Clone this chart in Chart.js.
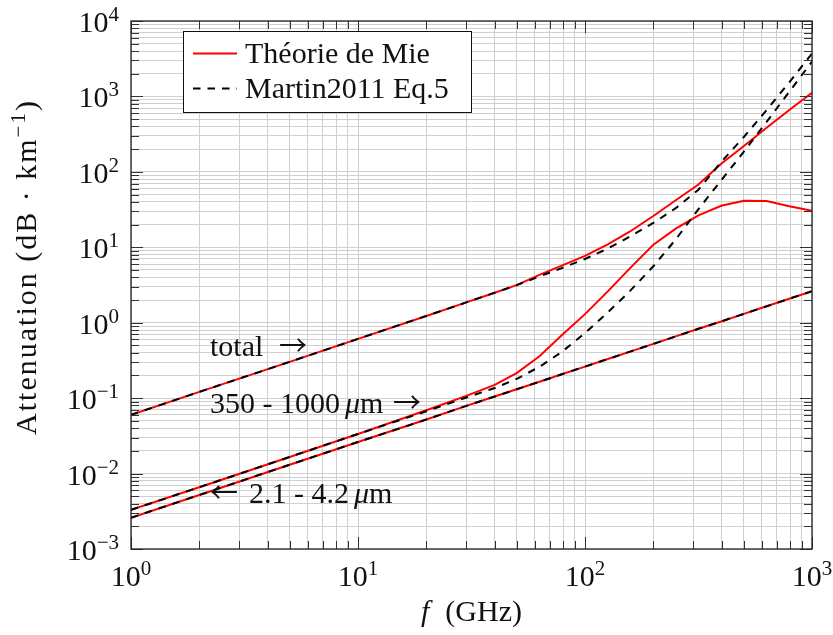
<!DOCTYPE html>
<html>
<head>
<meta charset="utf-8">
<script src="https://cdn.jsdelivr.net/npm/chart.js@4.4.1/dist/chart.umd.min.js"></script>
<style>
  html, body { margin: 0; padding: 0; background: #fff; }
</style>
</head>
<body>
<canvas id="att" width="833" height="635"></canvas>
<script>
// frequencies (GHz) and specific attenuation (dB/km)
var freq = [1, 2, 5, 10, 20, 30, 40, 50, 63, 79, 100, 126, 158, 200, 251, 316, 398, 501, 631, 794, 1000];

var mieTotal    = [0.060, 0.121, 0.303, 0.61, 1.23, 1.86, 2.5, 3.15, 4.3, 5.7, 7.7, 10.9, 16.2, 26, 42, 68, 128, 220, 385, 660, 1120];
var martinTotal = [0.060, 0.121, 0.303, 0.61, 1.23, 1.86, 2.5, 3.15, 4.1, 5.3, 7.0, 9.6, 13.9, 21, 33, 58, 135, 290, 660, 1540, 3700];

// 350 - 1000 um
var mieLarge    = [0.0033, 0.0066, 0.0166, 0.0335, 0.069, 0.107, 0.150, 0.215, 0.36, 0.68, 1.3, 2.6, 5.3, 10.8, 17.7, 26.5, 35.5, 41.4, 41, 35, 30.5];
var martinLarge = [0.0033, 0.0066, 0.0166, 0.0335, 0.067, 0.102, 0.136, 0.18, 0.26, 0.41, 0.73, 1.37, 2.64, 5.6, 12.7, 32, 77, 185, 460, 1150, 2900];

// 2.1 - 4.2 um
var mieSmall    = [0.0026, 0.0052, 0.0131, 0.0262, 0.052, 0.079, 0.105, 0.131, 0.165, 0.207, 0.262, 0.33, 0.414, 0.524, 0.66, 0.83, 1.04, 1.31, 1.65, 2.08, 2.62];
var martinSmall = [0.0026, 0.0052, 0.0131, 0.0262, 0.052, 0.079, 0.105, 0.131, 0.165, 0.207, 0.262, 0.33, 0.414, 0.524, 0.66, 0.83, 1.04, 1.31, 1.65, 2.08, 2.62];

var xExponents = [0, 1, 2, 3];
var yExponents = [-3, -2, -1, 0, 1, 2, 3, 4];
var legendLabels = ['Théorie de Mie', 'Martin2011 Eq.5'];

var SERIF = '"Liberation Serif", "Times New Roman", serif';
var F_MAIN = '30px ' + SERIF;
var F_SUP = '21px ' + SERIF;
var F_IT = 'italic 30px ' + SERIF;
var F_ARROW = '28px "Noto Sans CJK JP", "DejaVu Sans", sans-serif';
var DASH = [7.5, 7];

function pts(vals) {
  return freq.map(function (f, i) { return { x: f, y: vals[i] }; });
}

function logTicks(exps) {
  var out = [];
  for (var i = 0; i < exps.length - 1; i++) {
    for (var m = 1; m < 10; m++) {
      out.push({ value: parseFloat((m * Math.pow(10, exps[i])).toPrecision(6)), major: m === 1 });
    }
  }
  out.push({ value: Math.pow(10, exps[exps.length - 1]), major: true });
  return out;
}

function red(label, vals) {
  return { label: label, data: pts(vals), borderColor: '#ff0000', borderWidth: 2,
           pointRadius: 0, fill: false, order: 2 };
}
function dashed(label, vals) {
  return { label: label, data: pts(vals), borderColor: '#000000', borderWidth: 2,
           borderDash: DASH, pointRadius: 0, fill: false, order: 1 };
}

// draws a sequence of text pieces with their own fonts, returns end x
function runs(ctx, parts, x, y) {
  parts.forEach(function (p) {
    ctx.font = p.font;
    ctx.fillText(p.text, x, y + (p.dy || 0));
    x += ctx.measureText(p.text).width + (p.gap || 0);
  });
  return x;
}
function runsWidth(ctx, parts) {
  var w = 0;
  parts.forEach(function (p) { ctx.font = p.font; w += ctx.measureText(p.text).width + (p.gap || 0); });
  return w;
}
function powParts(e) {
  return [{ text: '10', font: F_MAIN }, { text: String(e).replace('-', '\u2212'), font: F_SUP, dy: -11 }];
}

var decor = {
  id: 'decor',
  afterDraw: function (chart) {
    var ctx = chart.ctx, a = chart.chartArea;
    var xs = chart.scales.x, ys = chart.scales.y;
    ctx.save();

    // frame and inward ticks on all four sides
    ctx.strokeStyle = '#333';
    ctx.lineWidth = 1;
    ctx.beginPath();
    xs.ticks.forEach(function (t) {
      var px = Math.round(xs.getPixelForValue(t.value)) + 0.5, len = t.major ? 12 : 8;
      ctx.moveTo(px, a.bottom); ctx.lineTo(px, a.bottom - len);
      ctx.moveTo(px, a.top); ctx.lineTo(px, a.top + len);
    });
    ys.ticks.forEach(function (t) {
      var py = Math.round(ys.getPixelForValue(t.value)) + 0.5, len = t.major ? 12 : 8;
      ctx.moveTo(a.left, py); ctx.lineTo(a.left + len, py);
      ctx.moveTo(a.right, py); ctx.lineTo(a.right - len, py);
    });
    ctx.stroke();
    ctx.strokeStyle = '#222';
    ctx.lineWidth = 1.3;
    ctx.strokeRect(a.left, a.top, a.right - a.left, a.bottom - a.top);

    ctx.fillStyle = '#111';
    ctx.textBaseline = 'alphabetic';
    ctx.textAlign = 'left';

    // tick labels
    xExponents.forEach(function (e) {
      var p = powParts(e), w = runsWidth(ctx, p);
      runs(ctx, p, xs.getPixelForValue(Math.pow(10, e)) - w / 2, 586);
    });
    yExponents.forEach(function (e) {
      var p = powParts(e), w = runsWidth(ctx, p);
      runs(ctx, p, 119 - w, ys.getPixelForValue(Math.pow(10, e)) + 11);
    });

    // axis titles
    var xt = [{ text: 'f', font: F_IT, gap: 16 }, { text: '(GHz)', font: F_MAIN }];
    runs(ctx, xt, (a.left + a.right) / 2 - runsWidth(ctx, xt) / 2, 621);

    var yt = [{ text: 'Attenuation (dB \u00b7 km', font: F_MAIN },
              { text: '\u22121', font: F_SUP, dy: -11 },
              { text: ')', font: F_MAIN }];
    ctx.save();
    ctx.letterSpacing = '2px';
    ctx.translate(36, 267);
    ctx.rotate(-Math.PI / 2);
    runs(ctx, yt, -runsWidth(ctx, yt) / 2, 0);
    ctx.restore();

    // curve annotations
    runs(ctx, [{ text: 'total', font: F_MAIN }], 210, 356);
    runs(ctx, [{ text: '\u2192', font: F_ARROW }], 279, 356);
    runs(ctx, [{ text: '350 - 1000', font: F_MAIN, gap: 5 }, { text: '\u03bc', font: F_IT },
               { text: 'm', font: F_MAIN }], 210, 413);
    runs(ctx, [{ text: '\u2192', font: F_ARROW }], 393, 413);
    runs(ctx, [{ text: '\u2190', font: F_ARROW }], 210, 503);
    runs(ctx, [{ text: '2.1 - 4.2', font: F_MAIN, gap: 5 }, { text: '\u03bc', font: F_IT },
               { text: 'm', font: F_MAIN }], 249, 503);

    // legend
    ctx.fillStyle = '#fff';
    ctx.fillRect(183.5, 31.5, 288, 81);
    ctx.strokeStyle = '#111';
    ctx.lineWidth = 1;
    ctx.strokeRect(183.5, 31.5, 288, 81);
    ctx.lineWidth = 2;
    ctx.strokeStyle = '#ff0000';
    ctx.beginPath(); ctx.moveTo(193, 53.5); ctx.lineTo(237, 53.5); ctx.stroke();
    ctx.strokeStyle = '#000';
    ctx.setLineDash(DASH);
    ctx.beginPath(); ctx.moveTo(193, 88.5); ctx.lineTo(237, 88.5); ctx.stroke();
    ctx.setLineDash([]);
    ctx.fillStyle = '#111';
    runs(ctx, [{ text: legendLabels[0], font: F_MAIN }], 245, 63);
    runs(ctx, [{ text: legendLabels[1], font: F_MAIN }], 245, 98);

    ctx.restore();
  }
};

new Chart(document.getElementById('att'), {
  type: 'line',
  data: {
    datasets: [
      dashed(legendLabels[1], martinTotal),
      dashed(legendLabels[1], martinLarge),
      dashed(legendLabels[1], martinSmall),
      red(legendLabels[0], mieTotal),
      red(legendLabels[0], mieLarge),
      red(legendLabels[0], mieSmall)
    ]
  },
  options: {
    responsive: false,
    devicePixelRatio: 1,
    animation: false,
    layout: { padding: { top: 21, right: 21, left: 0, bottom: 0 } },
    plugins: { legend: { display: false }, tooltip: { enabled: false } },
    scales: {
      x: {
        type: 'logarithmic', min: 1, max: 1000,
        afterBuildTicks: function (s) { s.ticks = logTicks(xExponents); },
        afterFit: function (s) { s.height = 86; },
        ticks: { display: false, autoSkip: false },
        grid: { color: '#cfcfcf', lineWidth: 1, drawTicks: false },
        border: { display: false }
      },
      y: {
        type: 'logarithmic', min: 0.001, max: 10000,
        afterBuildTicks: function (s) { s.ticks = logTicks(yExponents); },
        afterFit: function (s) { s.width = 131; },
        ticks: { display: false, autoSkip: false },
        grid: { color: '#cfcfcf', lineWidth: 1, drawTicks: false },
        border: { display: false }
      }
    }
  },
  plugins: [decor]
});
</script>
</body>
</html>
